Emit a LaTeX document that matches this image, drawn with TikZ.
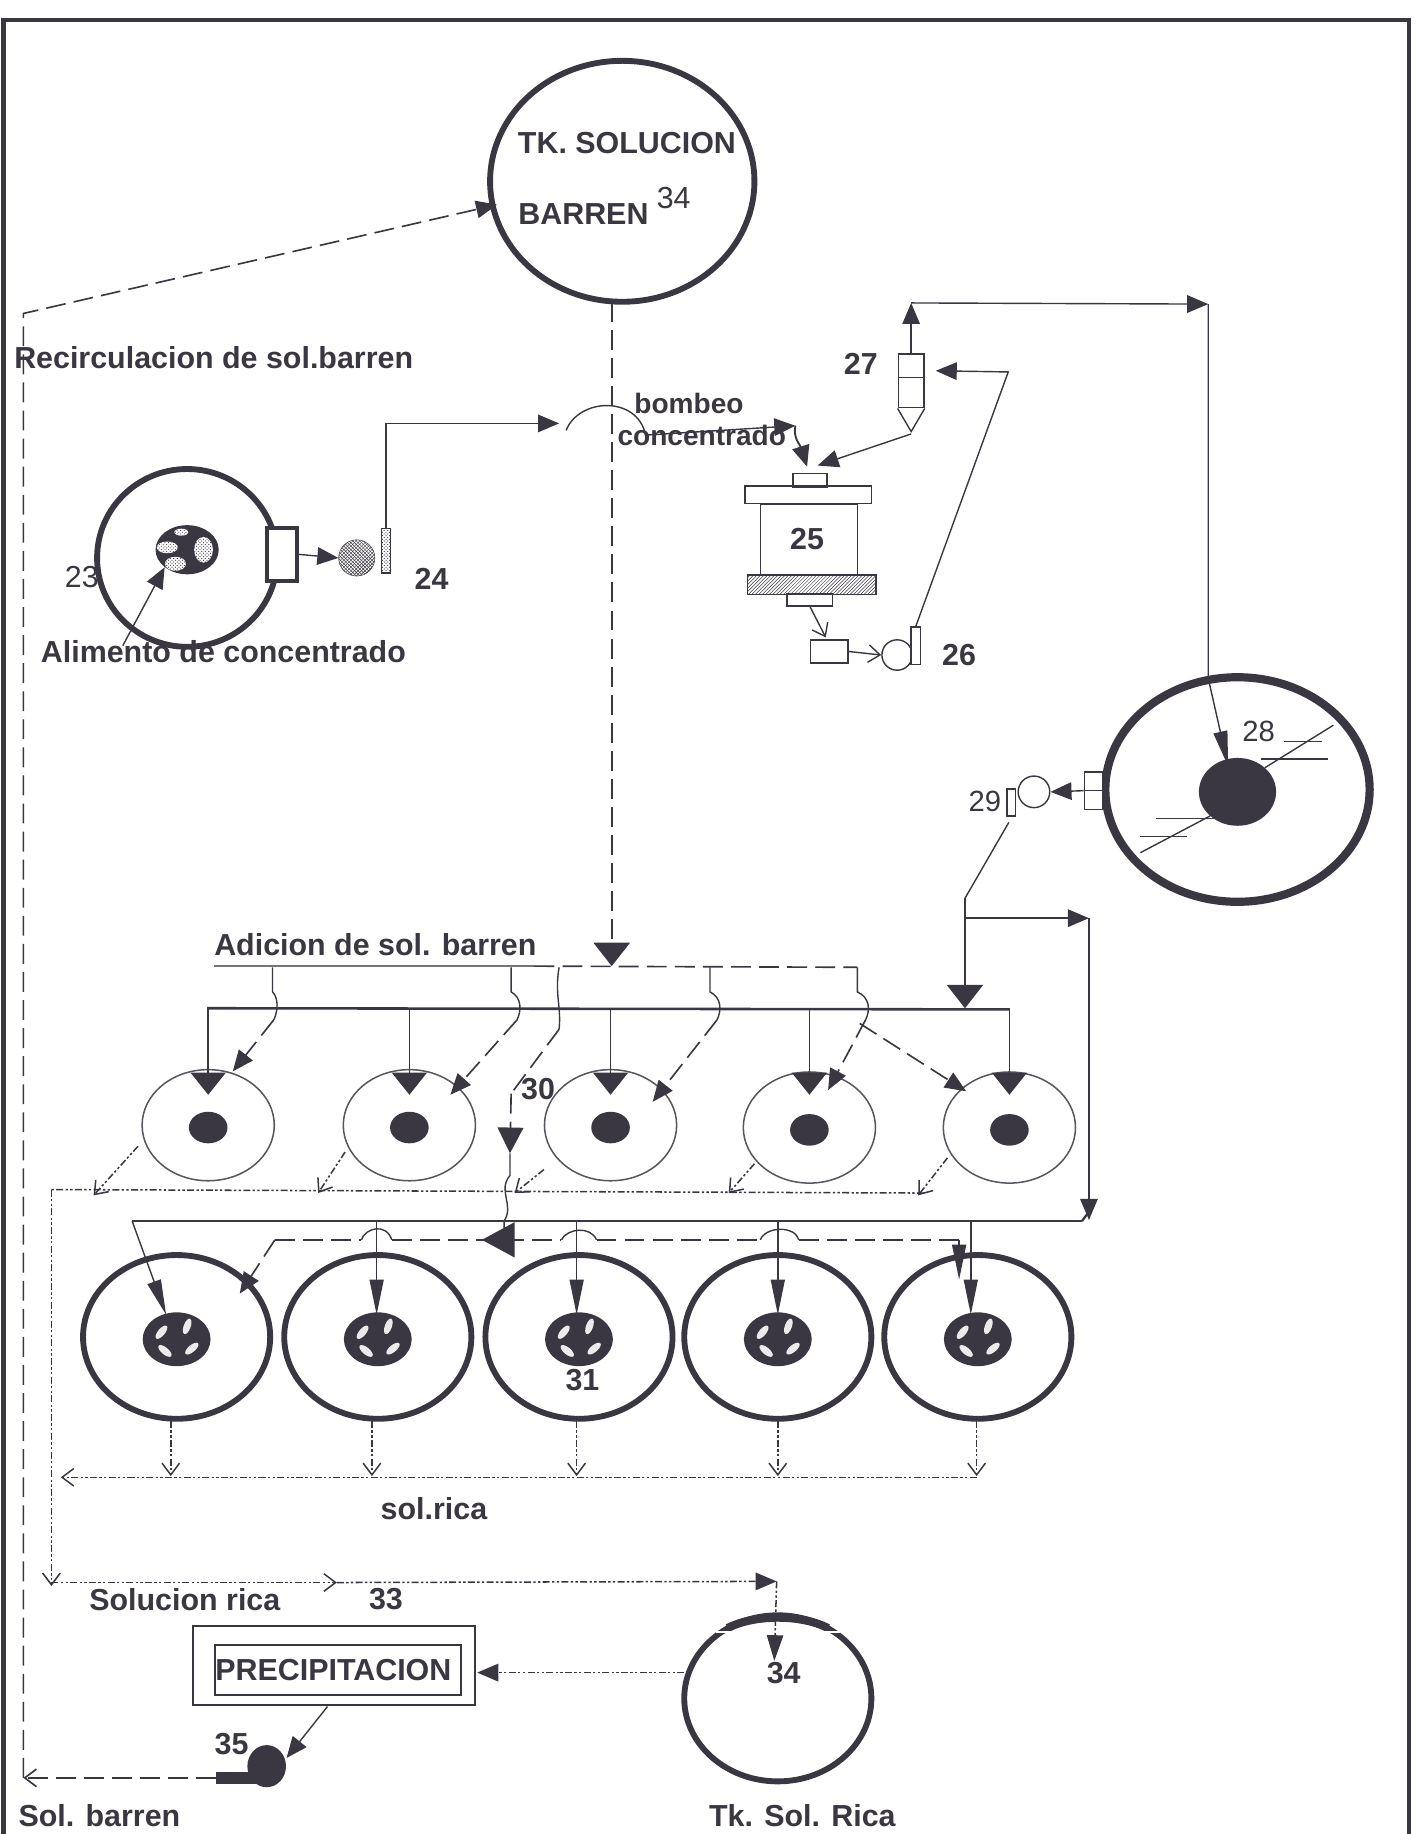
\documentclass[tikz,border=0pt]{standalone}
\usepackage{fontspec}
\setmainfont{Liberation Sans}
\usetikzlibrary{arrows.meta,patterns,shapes.geometric}
\definecolor{ink}{HTML}{3B3742}
\tikzset{
  label/.style={font=\fontsize{26}{30}\selectfont\bfseries, text=ink, inner sep=0pt},
  smalllabel/.style={font=\fontsize{24}{28}\selectfont\bfseries, text=ink, inner sep=0pt},
  tank/.style={draw=ink, ellipse, line width=5pt, inner sep=0pt},
  cell/.style={draw=ink!85, ellipse, line width=1.3pt, inner sep=0pt},
  core/.style={fill=ink, ellipse, inner sep=0pt},
  box/.style={draw=ink, rectangle, line width=1.2pt, inner sep=0pt},
  pipe/.style={draw=ink, line width=1.2pt},
  barren/.style={draw=ink, line width=1.4pt, dash pattern=on 17pt off 7pt},
  rich/.style={draw=ink, line width=1.3pt, dash pattern=on 6pt off 2pt on 2pt off 2pt on 2pt off 2pt},
  tri/.style={-{Triangle[width=15pt,length=18pt,fill=ink]}},
  widetri/.style={-{Triangle[width=31pt,length=20pt,fill=ink]}},
  thintri/.style={-{Triangle[width=12pt,length=30pt,fill=ink]}},
  barb/.style={-{Straight Barb[length=10pt,width=15pt]}},
}
\begin{document}
\begin{tikzpicture}[x=1pt, y=-1pt]
  \useasboundingbox (0,0) rectangle (1211,1568);

  % Frame
  \draw[ink, line width=3.5pt] (3,1568) -- (3,17) -- (1205,17) -- (1205,1568);

  % Tanks and vessels
  \node[tank, minimum width=226pt, minimum height=206pt] (tkbarren) at (532,155) {};
  \node[tank, minimum width=154pt, minimum height=152pt] (molino) at (160,477) {};
  \node[tank, line width=7pt, minimum width=226pt, minimum height=192pt] (espesador) at (1058,675) {};
  \node[tank, minimum width=160pt, minimum height=142pt] (tkrica) at (665,1452) {};
  \draw[ink, line width=7pt] (622,1392) .. controls (645,1380) and (685,1380) .. (708,1392);
  \draw[white, line width=1.5pt] (612,1395) -- (628,1395);
  \draw[white, line width=1.5pt] (702,1395) -- (718,1395);

  % Mill 23 and pump 24
  \node[box, line width=3.5pt, minimum width=26pt, minimum height=45pt, fill=white] (molinobox) at (241,474) {};
  \node[core, minimum width=54pt, minimum height=42pt] (molinocore) at (160,470) {};
  \foreach \px/\py/\rx/\ry in {155/455/6/3, 143/468/9/5, 150/482/9/6, 174/470/8/11} {
    \fill[white] (\px,\py) ellipse[x radius=\rx, y radius=\ry];
    \fill[pattern=crosshatch dots, pattern color=ink] (\px,\py) ellipse[x radius=\rx, y radius=\ry];
  }
  \node[circle, draw=ink, pattern=crosshatch, pattern color=ink, minimum size=31pt, inner sep=0pt] (bomba24) at (305,477) {};
  \node[box, pattern=crosshatch dots, pattern color=ink, minimum width=8pt, minimum height=38pt] (placa24) at (330,471) {};
  \coordinate (codo24) at (330,362);
  \coordinate (salto) at (478,362);
  \coordinate (alim) at (105,552);
  \draw[pipe, tri] (molinobox.east) -- (bomba24.west);
  \draw[pipe, tri] (placa24.north) -- (codo24) -- (salto);
  \draw[pipe, tri] (alim) -- (molinocore.south west);

  % Cyclone 27
  \node[box, minimum width=22pt, minimum height=46pt, anchor=north] (ciclon) at (779,302) {};
  \coordinate (ciclontip) at (779,369);
  \coordinate (ciclonsal) at (779,371);
  \draw[pipe] (ciclon.south west) -- (ciclontip) -- (ciclon.south east);
  \draw[pipe] (768,323) -- (790,323);

  % Filter 25
  \node[box, minimum width=29pt, minimum height=12pt] (filtrotop) at (692.5,411) {};
  \node[box, minimum width=108pt, minimum height=15pt] (filtrocap) at (691,423) {};
  \node[box, minimum width=83pt, minimum height=60pt] (filtro) at (691.5,461) {};
  \node[box, pattern=north east lines, pattern color=ink, minimum width=110pt, minimum height=17pt] (filtrobase) at (694,500) {};
  \node[box, minimum width=39pt, minimum height=10pt] (filtrosal) at (692.5,513) {};
  \node[box, minimum width=32pt, minimum height=20pt] (recibidor) at (709,557) {};
  \node[circle, draw=ink, line width=1.2pt, minimum size=26pt, inner sep=0pt] (bomba26) at (767,560) {};
  \node[box, minimum width=8pt, minimum height=32pt, fill=white] (placa26) at (783,552) {};
  \coordinate (codo26) at (862,318);
  \coordinate (ent27) at (800,317);
  \coordinate (ent25a) at (699,398);
  \coordinate (ent25b) at (690,399);
  \coordinate (codo27) at (779,259);
  \coordinate (codo28) at (1033,260);
  \coordinate (ent28) at (1050,655);
  \draw[pipe, barb] (filtrosal.south) -- (706,545);
  \draw[pipe, barb] (recibidor.east) -- (bomba26.west);
  \draw[pipe, tri] (placa26.north) -- (codo26) -- (ent27);
  \draw[pipe, tri] (ciclonsal) -- (ent25a);
  \draw[pipe, tri] (ciclon.north) -- (codo27);
  \draw[pipe, tri] (codo27) -- (codo28);
  \draw[pipe, thintri] (codo28) -- (1033,580) -- (ent28);

  % Hop over the barren line and feed to the filter
  \coordinate (saltoa) at (484,368);
  \coordinate (saltob) at (680,364);
  \draw[pipe] (saltoa) .. controls (495,340) and (545,338) .. (552,372);
  \draw[pipe, tri] (552,372) -- (saltob);
  \draw[pipe, tri, line width=1.6pt] (saltob) .. controls (678,375) and (684,380) .. (ent25b);

  % Thickener 28 and pump 29
  \node[core, minimum width=66pt, minimum height=58pt] (espcore) at (1058,677) {};
  \coordinate (rakea) at (975,729);
  \coordinate (rakeb) at (1140,620);
  \draw[pipe] (rakea) -- (espcore.south west);
  \draw[pipe] (espcore.north east) -- (rakeb);
  \foreach \xa/\xb/\y in {1098/1130/634, 1078/1135/649, 988/1040/700, 975/1015/715}
    \draw[pipe] (\xa,\y) -- (\xb,\y);
  \node[box, minimum width=16pt, minimum height=32pt, fill=white] (espbox) at (935,676) {};
  \draw[pipe] (espbox.west) -- (espbox.east);
  \node[circle, draw=ink, line width=1.2pt, minimum size=27pt, inner sep=0pt] (bomba29) at (884,677) {};
  \node[box, minimum width=7pt, minimum height=23pt] (placa29) at (864.5,686) {};
  \draw[pipe, tri] (espbox.west) -- (bomba29.east);

  % Feed from pump 29 to both headers
  \coordinate (feed) at (825,768);
  \coordinate (feedb) at (825,785);
  \coordinate (feedc) at (931,785);
  \coordinate (feedd) at (931,1036);
  \coordinate (cabezaa) at (825,862);
  \coordinate (cabezab) at (113,1044);
  \coordinate (cabezabr) at (925,1044);
  \draw[pipe] (placa29.south) ++(-2,5) -- (feed);
  \draw[pipe, line width=1.3pt, widetri] (feed) -- (cabezaa);
  \draw[pipe, line width=1.3pt, tri] (feedb) -- (feedc);
  \draw[pipe, tri] (feedc) -- (931,1043);
  \draw[pipe, line width=2pt] (cabezabr) -- (feedd);
  \draw[pipe, line width=2.2pt] (cabezab) -- (cabezabr);
  \draw[pipe, line width=2.2pt] (177,862) -- (863,863);

  % Small cells
  \foreach \i/\x/\y in {1/178/962, 2/350/962, 3/522/962, 4/692/964, 5/863/964} {
    \node[cell, minimum width=113pt, minimum height=95pt] (celda\i) at (\x,\y) {};
    \node[core, minimum width=33pt, minimum height=27pt] (celdacore\i) at (\x,\y+2) {};
    \coordinate (celdatop\i) at (\x,862);
    \coordinate (celdatip\i) at (\x,936);
    \draw[pipe, -{Triangle[width=30pt,length=19pt,fill=ink]}] (celdatop\i) -- (celdatip\i);
  }

  % Big cells
  \foreach \i/\x/\tx in {1/151/113, 2/323/322, 3/495/493, 4/665/665, 5/836/830} {
    \node[tank, minimum width=160pt, minimum height=140pt] (cuba\i) at (\x,1143) {};
    \node[core, minimum width=58pt, minimum height=46pt] (cubacore\i) at (\x,1145) {};
    \foreach \dx/\dy/\rot in {-13/-6/50, 9/-11/70, -10/10/-40, 13/8/40}
      \fill[white!90!ink, rotate around={\rot:(\x+\dx,1145+\dy)}] (\x+\dx,1145+\dy) ellipse[x radius=7, y radius=3];
    \coordinate (cubatop\i) at (\tx,1044);
  }
  \coordinate (cubatip1) at (142,1124);
  \draw[pipe, thintri] (cubatop1) -- (cubatip1);
  \foreach \i/\x in {2/322, 3/493, 4/665, 5/830} {
    \coordinate (cubatip\i) at (\x,1124);
    \draw[pipe, thintri] (cubatop\i) -- (cubatip\i);
  }

  % Barren solution
  \coordinate (barrenb) at (523,258);
  \coordinate (addc) at (523,826);
  \coordinate (adda) at (183,826);
  \coordinate (addb) at (457,826);
  \coordinate (addd) at (733,827);
  \coordinate (recirc) at (20,268);
  \coordinate (recircb) at (20,1520);
  \coordinate (recirct) at (425,175);
  \draw[barren, widetri] (barrenb) -- (addc);
  \draw[ink!70, line width=1.6pt] (adda) -- (addb);
  \draw[barren] (addb) -- (addd);
  \draw[barren, tri] (recircb) -- (recirc) -- (recirct);

  % Branches from the barren line to the small cells
  \foreach \x/\xb/\xc/\yc in {233/237/199/916, 437/445/385/936, 607/616/558/942, 733/743/708/932} {
    \coordinate (ramaa) at (\x,827);
    \coordinate (ramab) at (\xb-3,872);
    \coordinate (ramac) at (\xc,\yc);
    \draw[pipe] (ramaa) -- (\x,848) .. controls (\xb+1,853) and (\xb+1,864) .. (ramab);
    \draw[barren, tri] (ramab) -- (ramac);
  }
  \coordinate (ramad) at (735,875);
  \coordinate (ramae) at (826,933);
  \draw[barren, tri] (ramad) -- (ramae);

  % Branch to the second row, point 30
  \coordinate (treinta) at (478,827);
  \coordinate (treintab) at (478,880);
  \coordinate (treintac) at (437,935);
  \coordinate (treintad) at (436,986);
  \coordinate (treintae) at (436,1005);
  \coordinate (treintaf) at (431,1044);
  \coordinate (treintag) at (412,1060);
  \coordinate (treintah) at (442,1060);
  \draw[pipe] (treinta) .. controls (474,850) and (480,860) .. (treintab);
  \draw[barren] (treintab) -- (treintac);
  \draw[barren, -{Triangle[width=22pt,length=22pt,fill=ink]}] (treintac) -- (treintad);
  \draw[pipe] (treintad) -- (treintae) .. controls (425,1018) and (440,1030) .. (treintaf) -- (431,1050);
  \draw[pipe, -{Triangle[width=30pt,length=28pt,fill=ink]}] (treintah) -- (treintag);

  % Dashed line over the big cells
  \coordinate (lineaa) at (235,1060);
  \coordinate (lineab) at (820,1060);
  \coordinate (lineatip) at (820,1094);
  \coordinate (lineab1) at (205,1106);
  \draw[barren, tri] (lineaa) -- (lineab1);
  \draw[barren] (lineaa) -- (309,1060);
  \draw[pipe] (309,1060) .. controls (312,1050) and (330,1045) .. (335,1060);
  \draw[barren] (335,1060) -- (480,1060);
  \draw[pipe] (480,1060) .. controls (485,1050) and (505,1048) .. (510,1060);
  \draw[barren] (510,1060) -- (650,1060);
  \draw[pipe] (650,1060) .. controls (655,1048) and (680,1048) .. (683,1060);
  \draw[barren] (683,1060) -- (lineab);
  \draw[barren, thintri] (lineab) -- (lineatip);

  % Rich solution, first row
  \coordinate (ricaa) at (44,1017);
  \coordinate (ricab) at (790,1020);
  \coordinate (ricac) at (44,1356);
  \draw[rich] (ricab) -- (ricaa);
  \draw[rich, barb] (ricaa) -- (ricac);
  \foreach \i/\xa/\ya/\xb/\yb in {1/118/980/80/1022, 2/295/985/272/1020, 3/465/1000/440/1020, 4/645/995/623/1020, 5/810/990/785/1022}
    \draw[rich, barb] (\xa,\ya) -- (\xb,\yb);

  % Rich solution, second row
  \coordinate (ricad) at (835,1263);
  \coordinate (ricae) at (52,1263);
  \draw[rich, barb] (ricad) -- (ricae);
  \foreach \i/\x in {1/146, 2/318, 3/493, 4/665, 5/835} {
    \coordinate (dren\i) at (\x,1262);
    \draw[rich, barb] (\x,1215) -- (dren\i);
  }

  % Rich solution to its tank and precipitation
  \coordinate (ricaf) at (44,1353);
  \coordinate (ricag) at (288,1353);
  \coordinate (ricah) at (664,1352);
  \coordinate (ricai) at (662,1420);
  \draw[rich, barb] (ricaf) -- (ricag);
  \draw[rich, tri] (ricag) -- (ricah);
  \draw[rich, -{Triangle[width=14pt,length=22pt,fill=ink]}] (ricah) -- (ricai);
  \node[box, line width=1.6pt, minimum width=241pt, minimum height=68pt] (precipbox) at (285.5,1424) {};
  \node[box, line width=1.8pt, minimum width=210pt, minimum height=43pt] (precip) at (289,1428) {};
  \node[core, minimum width=33pt, minimum height=36pt] (bomba35) at (228,1510) {};
  \node[fill=ink, rectangle, inner sep=0pt, minimum width=44pt, minimum height=10pt] (placa35) at (207,1520) {};
  \coordinate (ent35) at (245,1503);
  \coordinate (solb) at (20,1520);
  \coordinate (ricaj) at (585,1430);
  \coordinate (precipent) at (408,1430);
  \draw[rich, tri] (ricaj) -- (precipent);
  \draw[pipe, tri] (280,1459) -- (ent35);
  \draw[barren, barb] (placa35.west) -- (solb);

  % Labels
  \node[label] (lbltk) at (536,122) {TK. SOLUCION};
  \node[label, anchor=west] (lblbarren) at (443,183) {BARREN};
  \node[label, font=\fontsize{26}{30}\selectfont] (lbl34a) at (576,169) {34};
  \node[label, anchor=west] (lblrecirc) at (12,306) {Recirculacion de sol.barren};
  \node[smalllabel] (lblbombeo) at (589,345) {bombeo};
  \node[smalllabel] (lblconc) at (600,372) {concentrado};
  \node[label] (lbl27) at (736,311) {27};
  \node[label, font=\fontsize{26}{30}\selectfont] (lbl23) at (70,493) {23};
  \node[label] (lbl24) at (369,495) {24};
  \node[label] (lblalim) at (191,557) {Alimento de concentrado};
  \node[label] (lbl25) at (690,461) {25};
  \node[label] (lbl26) at (820,560) {26};
  \node[label, font=\fontsize{25}{30}\selectfont] (lbl28) at (1076,625) {28};
  \node[label, font=\fontsize{25}{30}\selectfont] (lbl29) at (842,685) {29};
  \node[label, anchor=west] (lbladd) at (183,808) {Adicion de sol. barren};
  \node[label] (lbl30) at (460,931) {30};
  \node[label] (lbl31) at (498,1180) {31};
  \node[label] (lblsolrica) at (371,1290) {sol.rica};
  \node[label] (lblsolucion) at (158,1368) {Solucion rica};
  \node[label] (lbl33) at (330,1367) {33};
  \node[label] (lblprecip) at (285,1428) {PRECIPITACION};
  \node[label] (lbl34b) at (670,1430) {34};
  \node[label] (lbl35) at (198,1491) {35};
  \node[label] (lblsolb) at (85,1552) {Sol. barren};
  \node[label] (lbltkrica) at (686,1552) {Tk. Sol. Rica};
\end{tikzpicture}
\end{document}
